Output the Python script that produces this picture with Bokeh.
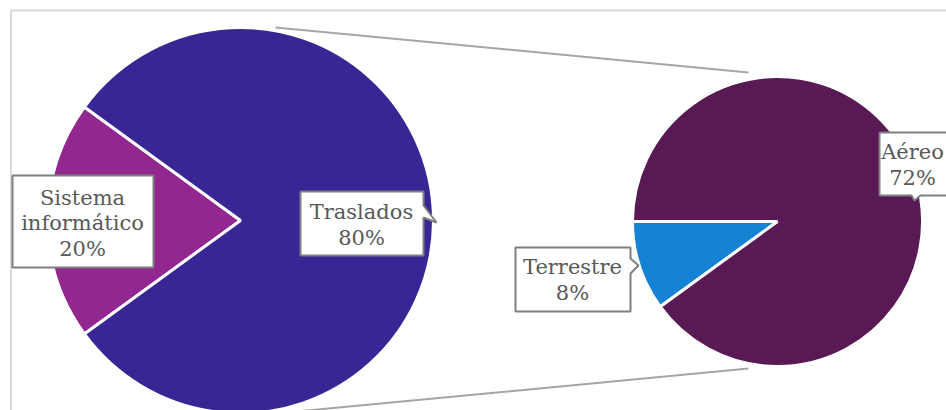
import math
from bokeh.plotting import figure
from bokeh.models import Range1d
from bokeh.core.properties import value
from bokeh.embed import file_html
from bokeh.resources import INLINE

# ---- data ----
main_categories = ["Sistema informático", "Traslados"]
main_values = [20, 80]
main_colors = ["#92278F", "#3A2594"]

sub_categories = ["Terrestre", "Aéreo"]
sub_values = [8, 72]
sub_colors = ["#1582D3", "#581955"]

W, H = 946, 410

def sy(y):
    return H - y

p = figure(width=W, height=H, x_range=Range1d(0, W), y_range=Range1d(0, H),
           output_backend="svg", toolbar_location=None, min_border=0,
           background_fill_color="white", border_fill_color="white")
p.axis.visible = False
p.grid.visible = False
p.outline_line_color = None

# frame
p.line([10, W], [sy(10), sy(10)], line_color="#D9D9D9", line_width=2)
p.line([10.5, 10.5], [sy(10), 0], line_color="#D9D9D9", line_width=2)

# connector lines
p.line([275, 748], [sy(27), sy(72)], line_color="#A6A6A6", line_width=2)
p.line([275, 748], [sy(413), sy(368)], line_color="#A6A6A6", line_width=2)

# ---- main pie ----
cx1, cy1, r1 = 240, sy(220), 193
total = sum(main_values)
span0 = main_values[0] / total * 2 * math.pi
start = math.pi - span0 / 2
for v, c in zip(main_values, main_colors):
    span = v / total * 2 * math.pi
    p.wedge(x=[cx1], y=[cy1], radius=r1, start_angle=start, end_angle=start + span,
            fill_color=c, line_color="white", line_width=3)
    start += span

# ---- sub pie ----
cx2, cy2, r2 = 777, sy(221), 145
stotal = sum(sub_values)
start = math.pi
for v, c in zip(sub_values, sub_colors):
    span = v / stotal * 2 * math.pi
    p.wedge(x=[cx2], y=[cy2], radius=r2, start_angle=start, end_angle=start + span,
            fill_color=c, line_color="white", line_width=3)
    start += span

# ---- callout labels ----
def box(x0, y0, x1, y1, pointer=None):
    if pointer is None:
        xs = [x0, x1, x1, x0]
        ys = [y0, y0, y1, y1]
    elif pointer[0] == "right":
        _, a, b, tx, ty = pointer
        xs = [x0, x1, x1, tx, x1, x1, x0]
        ys = [y0, y0, a, ty, b, y1, y1]
    else:  # bottom
        _, a, b, tx, ty = pointer
        xs = [x0, x1, x1, b, tx, a, x0]
        ys = [y0, y0, y1, y1, ty, y1, y1]
    p.patch(xs, [sy(y) for y in ys], fill_color="white", line_color="#7F7F7F", line_width=2)

def label(xc, ys_list, lines):
    for yy, t in zip(ys_list, lines):
        p.text(x=[xc], y=[sy(yy)], text=[t], text_align="center", text_baseline="middle",
               text_font=value("DejaVu Serif"), text_font_size="21px", text_color="#595959")

pct = [f"{v}%" for v in main_values]
spct = [f"{v}%" for v in sub_values]

box(12, 175, 153, 267)
w = main_categories[0].split(" ")
label(82, [197, 222, 248], [w[0], w[1], pct[0]])

box(300, 191, 423, 255, ("right", 205, 217, 436, 222))
label(361, [211, 237], [main_categories[1], pct[1]])

box(515, 247, 630, 311, ("right", 258, 273, 638, 265))
label(572, [266, 292], [sub_categories[0], spct[0]])

box(879, 132, 952, 195, ("bottom", 911, 920, 914, 200))
label(912, [151, 177], [sub_categories[1], spct[1]])

open("out.html", "w").write(file_html(p, INLINE))
